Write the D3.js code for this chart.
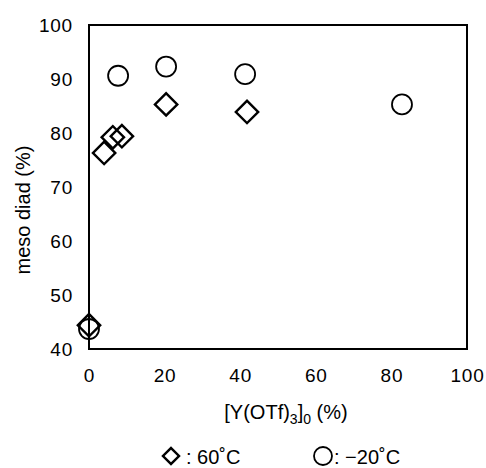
<!DOCTYPE html>
<html>
<head>
<meta charset="utf-8">
<script src="https://cdn.jsdelivr.net/npm/d3@7"></script>
<style>
  body { margin: 0; background: #fff; }
  text { font-family: "Liberation Sans", Arial, sans-serif; fill: #000; }
</style>
</head>
<body>
<script>
// meso diad vs. [Y(OTf)3]0
const width = 486;
const height = 468;

const xTicks = [0, 20, 40, 60, 80, 100];
const yTicks = [40, 50, 60, 70, 80, 90, 100];

// 60°C series (diamonds)
const hotX = [0, 4, 6.3, 8.7, 20.4, 41.8];
const hotY = [44.4, 76.3, 79.2, 79.4, 85.3, 83.9];

// -20°C series (circles)
const coldX = [0, 7.7, 20.4, 41.3, 82.8];
const coldY = [43.7, 90.6, 92.3, 90.9, 85.3];

const margin = { left: 89, top: 25, right: 19, bottom: 119 };

const svg = d3.select("body").append("svg")
    .attr("width", width)
    .attr("height", height);

const x = d3.scaleLinear().domain([0, 100]).range([margin.left, width - margin.right]);
const y = d3.scaleLinear().domain([40, 100]).range([height - margin.bottom, margin.top]);

// frame
svg.append("rect")
    .attr("x", x(0))
    .attr("y", y(100))
    .attr("width", x(100) - x(0))
    .attr("height", y(40) - y(100))
    .attr("fill", "none")
    .attr("stroke", "#000")
    .attr("stroke-width", 2);

const tickStyle = sel => sel.selectAll("text")
    .style("font-size", "19px")
    .style("letter-spacing", "0.8px")
    .style("font-family", "Liberation Sans, Arial, sans-serif");

// tick labels, no tick marks
svg.append("g")
    .attr("transform", `translate(0,${y(40)})`)
    .call(d3.axisBottom(x).tickValues(xTicks).tickSize(0).tickPadding(20))
    .call(g => g.select(".domain").remove())
    .call(tickStyle);

svg.append("g")
    .attr("transform", `translate(${x(0)},0)`)
    .call(d3.axisLeft(y).tickValues(yTicks).tickSize(0).tickPadding(16))
    .call(g => g.select(".domain").remove())
    .call(tickStyle);

// axis titles
const xt = svg.append("text")
    .attr("x", 286)
    .attr("y", 419)
    .attr("text-anchor", "middle")
    .style("font-size", "20px");
xt.append("tspan").text("[Y(OTf)");
xt.append("tspan").attr("dy", 5).style("font-size", "14px").text("3");
xt.append("tspan").attr("dy", -5).text("]");
xt.append("tspan").attr("dy", 5).style("font-size", "14px").text("0");
xt.append("tspan").attr("dy", -5).text(" (%)");

svg.append("text")
    .attr("transform", `translate(30,210) rotate(-90)`)
    .attr("text-anchor", "middle")
    .style("font-size", "20px")
    .text("meso diad (%)");

const diamond = d3.symbol().type(d3.symbolSquare).size(250);

// markers
svg.append("g")
    .selectAll("path")
    .data(hotX.map((d, i) => [d, hotY[i]]))
    .join("path")
    .attr("d", diamond())
    .attr("transform", d => `translate(${x(d[0])},${y(d[1])}) rotate(45)`)
    .attr("fill", "none")
    .attr("stroke", "#000")
    .attr("stroke-width", 2.4);

svg.append("g")
    .selectAll("circle")
    .data(coldX.map((d, i) => [d, coldY[i]]))
    .join("circle")
    .attr("cx", d => x(d[0]))
    .attr("cy", d => y(d[1]))
    .attr("r", 10)
    .attr("fill", "none")
    .attr("stroke", "#000")
    .attr("stroke-width", 1.8);

// legend
const lg = svg.append("g").attr("transform", "translate(0,456)");
lg.append("path")
    .attr("d", d3.symbol().type(d3.symbolSquare).size(130)())
    .attr("transform", "translate(171,0) rotate(45)")
    .attr("fill", "none")
    .attr("stroke", "#000")
    .attr("stroke-width", 2.4);
lg.append("text").attr("x", 186).attr("y", 8).style("font-size", "20px").text(": 60˚C");
lg.append("circle")
    .attr("cx", 323).attr("cy", 0).attr("r", 9)
    .attr("fill", "none").attr("stroke", "#000").attr("stroke-width", 1.8);
lg.append("text").attr("x", 334).attr("y", 8).style("font-size", "20px").text(": −20˚C");
</script>
</body>
</html>
